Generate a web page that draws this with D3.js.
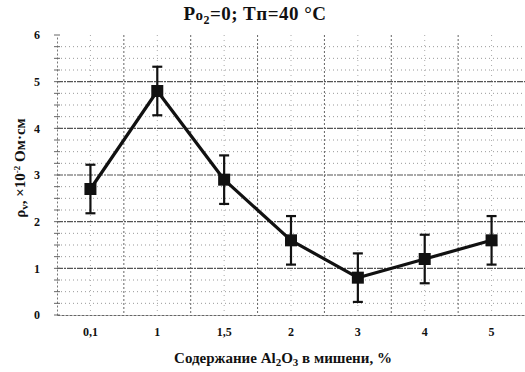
<!DOCTYPE html>
<html>
<head>
<meta charset="utf-8">
<script src="https://cdn.jsdelivr.net/npm/d3@7"></script>
<style>
  body { margin: 0; background: #fff; }
  svg text { font-family: "Liberation Serif", "DejaVu Serif", serif; font-weight: bold; fill: #111; }
</style>
</head>
<body>
<div class="chart"></div>
<script>
// Al2O3 content in target, % (categorical)
const categories = ["0,1", "1", "1,5", "2", "3", "4", "5"];
// resistivity, x10^-2 Ohm*cm
const rhoValues = [2.7, 4.8, 2.9, 1.6, 0.8, 1.2, 1.6];
const rhoError = [0.52, 0.52, 0.52, 0.52, 0.52, 0.52, 0.52];
const yTicks = [0, 1, 2, 3, 4, 5, 6];

const margin = {top: 35, right: 0, bottom: 57, left: 57},
  width = 525 - margin.left - margin.right,
  height = 372 - margin.top - margin.bottom;

const root = d3.select(".chart")
  .append("svg")
    .attr("width", 525)
    .attr("height", 372);

const svg = root.append("g")
  .attr("transform", "translate(" + margin.left + "," + margin.top + ")");

const x = d3.scaleBand()
  .domain(categories)
  .range([0, width])
  .padding(0);

const y = d3.scaleLinear()
  .domain([0, 6])
  .range([height, 0]);

const xc = d => x(d) + x.bandwidth() / 2;

// minor horizontal grid (dotted)
svg.append("g")
  .selectAll("line")
  .data(d3.range(0, 6.01, 0.25).filter(v => v % 1 != 0))
  .join("line")
    .attr("x1", 0).attr("x2", width)
    .attr("y1", d => y(d)).attr("y2", d => y(d))
    .attr("stroke", "#999")
    .attr("stroke-dasharray", "1,3");

// major horizontal grid
svg.append("g")
  .selectAll("line")
  .data(yTicks.slice(1, -1))
  .join("line")
    .attr("x1", 0).attr("x2", width)
    .attr("y1", d => y(d)).attr("y2", d => y(d))
    .attr("stroke", "#555")
    .attr("stroke-width", 1.2)
    .attr("stroke-dasharray", "6,1,2,1");

// vertical grid at band edges and centers
svg.append("g")
  .selectAll("line")
  .data(categories.slice(1))
  .join("line")
    .attr("x1", d => x(d)).attr("x2", d => x(d))
    .attr("y1", 0).attr("y2", height)
    .attr("stroke", "#666")
    .attr("stroke-dasharray", "2,2");

svg.append("g")
  .selectAll("line")
  .data(categories)
  .join("line")
    .attr("x1", d => xc(d)).attr("x2", d => xc(d))
    .attr("y1", 0).attr("y2", height)
    .attr("stroke", "#aaa")
    .attr("stroke-dasharray", "1,4");

// axes
const xAxis = svg.append("g")
  .attr("transform", "translate(0," + height + ")")
  .call(d3.axisBottom(x).tickSize(0).tickPadding(12));
xAxis.select(".domain").attr("stroke", "#666").attr("stroke-dasharray", "3,1");
xAxis.selectAll("text").style("font-size", "12px");

const yAxis = svg.append("g")
  .call(d3.axisLeft(y).tickValues(yTicks).tickFormat(d3.format("d")).tickSize(0).tickPadding(17));
yAxis.select(".domain").attr("stroke", "#777").attr("stroke-dasharray", "2,2");
yAxis.selectAll("text").style("font-size", "12px");

// minor y ticks on the axis
svg.append("g")
  .selectAll("line")
  .data(d3.range(0, 6.01, 0.25))
  .join("line")
    .attr("x1", -3).attr("x2", 3)
    .attr("y1", d => y(d)).attr("y2", d => y(d))
    .attr("stroke", "#666");

const points = categories.map((c, i) => ({key: c, value: rhoValues[i], err: rhoError[i]}));

// error bars
const bars = svg.append("g").attr("stroke", "#111").attr("stroke-width", 2.2);
bars.selectAll(".stem")
  .data(points)
  .join("line")
    .attr("x1", d => xc(d.key)).attr("x2", d => xc(d.key))
    .attr("y1", d => y(d.value - d.err)).attr("y2", d => y(d.value + d.err));
bars.selectAll(".capTop")
  .data(points)
  .join("line")
    .attr("x1", d => xc(d.key) - 5).attr("x2", d => xc(d.key) + 5)
    .attr("y1", d => y(d.value + d.err)).attr("y2", d => y(d.value + d.err));
bars.selectAll(".capBottom")
  .data(points)
  .join("line")
    .attr("x1", d => xc(d.key) - 5).attr("x2", d => xc(d.key) + 5)
    .attr("y1", d => y(d.value - d.err)).attr("y2", d => y(d.value - d.err));

// line
svg.append("path")
  .datum(points)
  .attr("fill", "none")
  .attr("stroke", "#111")
  .attr("stroke-width", 3.2)
  .attr("stroke-linejoin", "round")
  .attr("d", d3.line().x(d => xc(d.key)).y(d => y(d.value)));

// square markers
svg.selectAll(".marker")
  .data(points)
  .join("rect")
    .attr("x", d => xc(d.key) - 6)
    .attr("y", d => y(d.value) - 6)
    .attr("width", 12)
    .attr("height", 12)
    .attr("fill", "#111");

// title
root.append("text")
  .attr("x", 255)
  .attr("y", 20)
  .attr("text-anchor", "middle")
  .style("font-size", "19px")
  .style("letter-spacing", "0.5px")
  .html('P<tspan style="font-size:15px">o</tspan><tspan style="font-size:12px" dy="4">2</tspan><tspan dy="-4">=0; Tп=40 °C</tspan>');

// y label
root.append("text")
  .attr("transform", "translate(25,168) rotate(-90)")
  .attr("text-anchor", "middle")
  .style("font-size", "15px")
  .html('ρ<tspan style="font-size:11px" dy="3">v</tspan><tspan dy="-3">, ×10</tspan><tspan style="font-size:9px" dy="-5">-2</tspan><tspan dy="5"> Ом·см</tspan>');

// x label
root.append("text")
  .attr("x", 283)
  .attr("y", 363)
  .attr("text-anchor", "middle")
  .style("font-size", "15px")
  .html('Содержание Al<tspan style="font-size:11px" dy="3">2</tspan><tspan dy="-3">O</tspan><tspan style="font-size:11px" dy="3">3</tspan><tspan dy="-3"> в мишени, %</tspan>');
</script>
</body>
</html>
